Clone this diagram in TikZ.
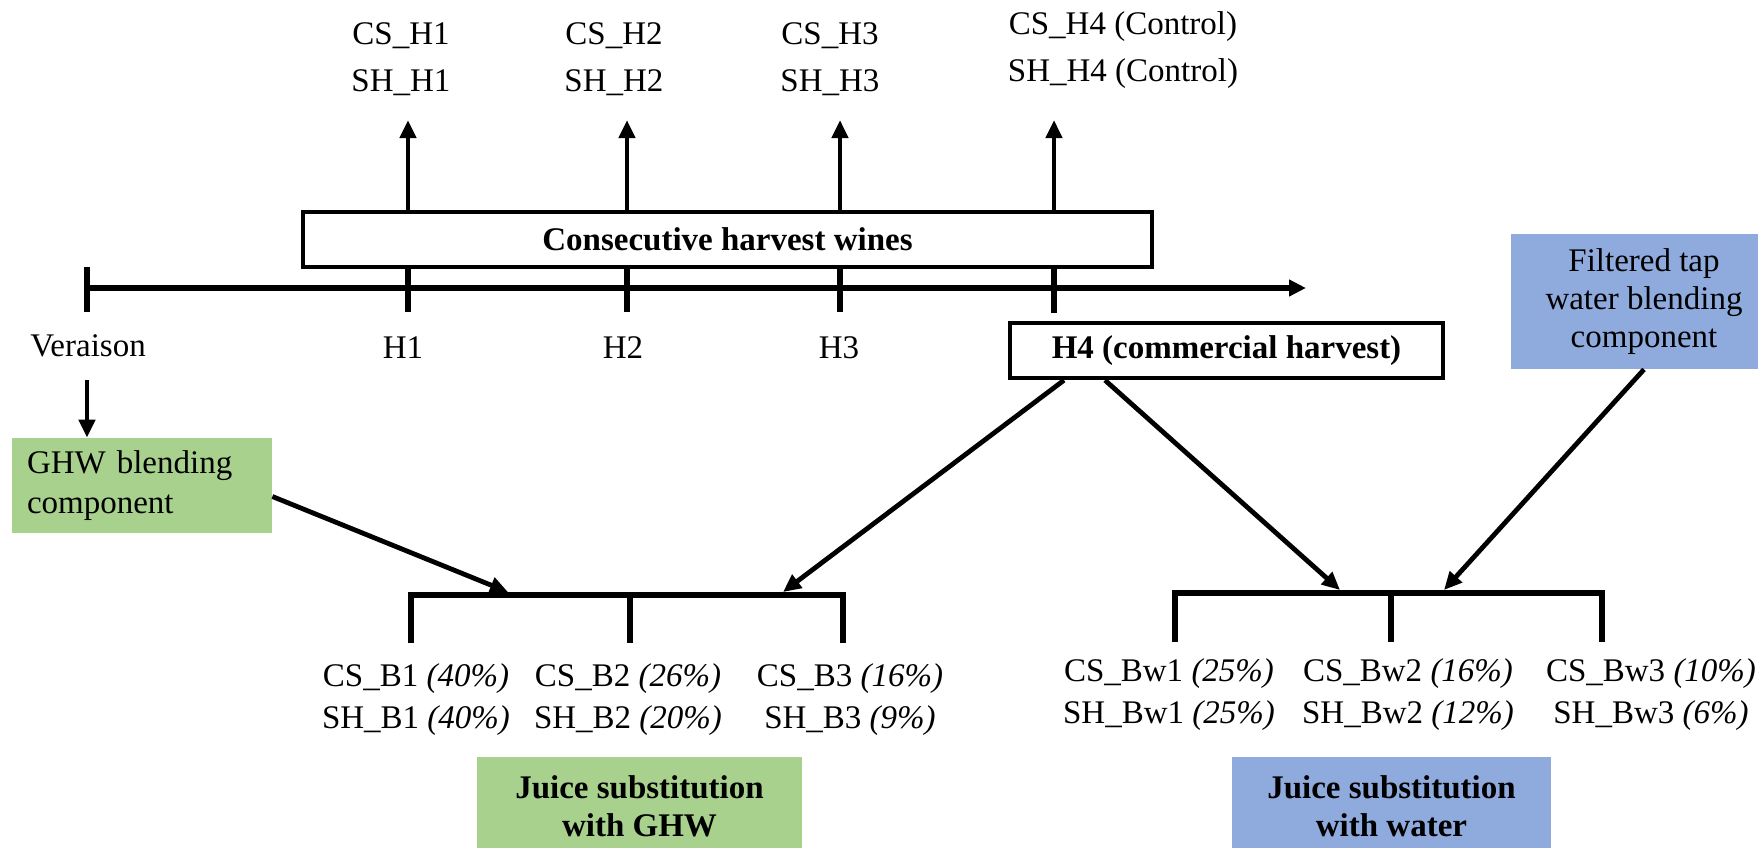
\documentclass[tikz,border=0pt]{standalone}
\usepackage{fontspec}
\setmainfont{Liberation Serif}
\usetikzlibrary{arrows.meta}
\definecolor{gfill}{RGB}{169,209,142}
\definecolor{bfill}{RGB}{143,170,220}
\begin{document}
\begin{tikzpicture}[x=0.5pt,y=-0.5pt,
  lbl/.style={font=\fontsize{16.5}{23.5}\selectfont, align=center, inner sep=0pt},
  lblb/.style={font=\fontsize{16.5}{21}\selectfont, align=center, inner sep=0pt},
  wbox/.style={draw, line width=2.2pt, fill=white, font=\fontsize{16.5}{19}\selectfont\bfseries, inner sep=0pt},
  cbox/.style={font=\fontsize{16.5}{19}\selectfont, align=center, inner sep=0pt},
  conn/.style={line width=2.4pt, -{Triangle[length=9pt,width=8pt]}},
  tickline/.style={line width=2.8pt},
  tline/.style={line width=3pt, -{Triangle[length=8.5pt,width=8pt]}}]
\useasboundingbox (0,0) rectangle (1758,847);
\fill[white] (0,0) rectangle (1758,847);
\clip (0,0) rectangle (1758,847);

% top labels
\node[lbl] (t1) at (401,59) {CS\_H1\\SH\_H1};
\node[lbl] (t2) at (614,59) {CS\_H2\\SH\_H2};
\node[lbl] (t3) at (830,59) {CS\_H3\\SH\_H3};
\node[lbl] (t4) at (1123,50) {CS\_H4 (Control)\\SH\_H4 (Control)};

% consecutive harvest box
\node[wbox, minimum width=424.5pt, minimum height=27.5pt] (cons) at (727.5,239.5) {Consecutive harvest wines};

% arrow tips and ticks
\coordinate (a1) at (408,120);
\coordinate (a2) at (627,120);
\coordinate (a3) at (840,120);
\coordinate (a4) at (1054,120);
\coordinate (k1) at (408,312);
\coordinate (k2) at (627,312);
\coordinate (k3) at (840,312);
\coordinate (k4) at (1054,313);
\foreach \i in {1,2,3,4}{
  \draw[conn] (cons.north -| a\i) -- (a\i);
  \draw[tickline] (cons.south -| k\i) -- (k\i);
}

% timeline
\coordinate (tl0) at (87,288);
\coordinate (tl1) at (1306,288);
\coordinate (v0) at (87,267);
\coordinate (v1) at (87,312);
\draw[tline] (tl0) -- (tl1);
\draw[tickline] (v0) -- (v1);

% timeline labels
\node[lbl] (ver) at (88,346) {Veraison};
\node[lbl] (h1) at (403,348) {H1};
\node[lbl] (h2) at (623,348) {H2};
\node[lbl] (h3) at (839,348) {H3};

% H4 box
\node[wbox, minimum width=216.5pt, minimum height=27.5pt] (h4) at (1226.5,350.5) {H4 (commercial harvest)};

% GHW box
\node[cbox, fill=gfill, align=left, text width=115pt, inner xsep=7.5pt, minimum height=47.5pt,
  font=\fontsize{16.5}{20}\selectfont] (ghw) at (142,485.5) {GHW blending\\component};
\coordinate (va) at (87,380);
\draw[conn] (va) -- (ghw.north -| va);

% water box
\node[cbox, fill=bfill, minimum width=133pt, minimum height=67.5pt] (wat) at (1644,301.5) {Filtered tap\\water blending\\component};

% brackets
\coordinate (bl0) at (411,643);
\coordinate (bl1) at (411,595);
\coordinate (bl2) at (843,595);
\coordinate (bl3) at (843,643);
\coordinate (bm0) at (630,595);
\coordinate (bm1) at (630,643);
\draw[tickline] (bl0) -- (bl1) -- (bl2) -- (bl3);
\draw[tickline] (bm0) -- (bm1);
\coordinate (br0) at (1175,642);
\coordinate (br1) at (1175,593);
\coordinate (br2) at (1602,593);
\coordinate (br3) at (1602,642);
\coordinate (bn0) at (1391,593);
\coordinate (bn1) at (1391,642);
\draw[tickline] (br0) -- (br1) -- (br2) -- (br3);
\draw[tickline] (bn0) -- (bn1);

% connectors to brackets
\coordinate (g1) at (508,592);
\coordinate (g2) at (783,592);
\coordinate (w1) at (1340,590);
\coordinate (w2) at (1444,590);
\coordinate (p1) at (1064,0);
\coordinate (p2) at (1105,0);
\draw[conn] ([yshift=-5.5pt]ghw.east) -- (g1);
\draw[conn] (h4.south -| p1) -- (g2);
\draw[conn] (h4.south -| p2) -- (w1);
\draw[conn] (wat.south) -- (w2);

% bottom labels
\node[lblb] (b1) at (416,700) {CS\_B1 \textit{(40\%)}\\SH\_B1 \textit{(40\%)}};
\node[lblb] (b2) at (628,700) {CS\_B2 \textit{(26\%)}\\SH\_B2 \textit{(20\%)}};
\node[lblb] (b3) at (850,700) {CS\_B3 \textit{(16\%)}\\SH\_B3 \textit{(9\%)}};
\node[lblb] (c1) at (1169,695) {CS\_Bw1 \textit{(25\%)}\\SH\_Bw1 \textit{(25\%)}};
\node[lblb] (c2) at (1408,695) {CS\_Bw2 \textit{(16\%)}\\SH\_Bw2 \textit{(12\%)}};
\node[lblb] (c3) at (1651,695) {CS\_Bw3 \textit{(10\%)}\\SH\_Bw3 \textit{(6\%)}};

% juice boxes
\node[cbox, fill=gfill, font=\fontsize{16.5}{19}\selectfont\bfseries, minimum width=162.5pt, minimum height=49pt] (jg) at (639.5,806) {Juice substitution\\with GHW};
\node[cbox, fill=bfill, font=\fontsize{16.5}{19}\selectfont\bfseries, minimum width=159.5pt, minimum height=49pt] (jw) at (1391.5,806) {Juice substitution\\with water};
\end{tikzpicture}
\end{document}
